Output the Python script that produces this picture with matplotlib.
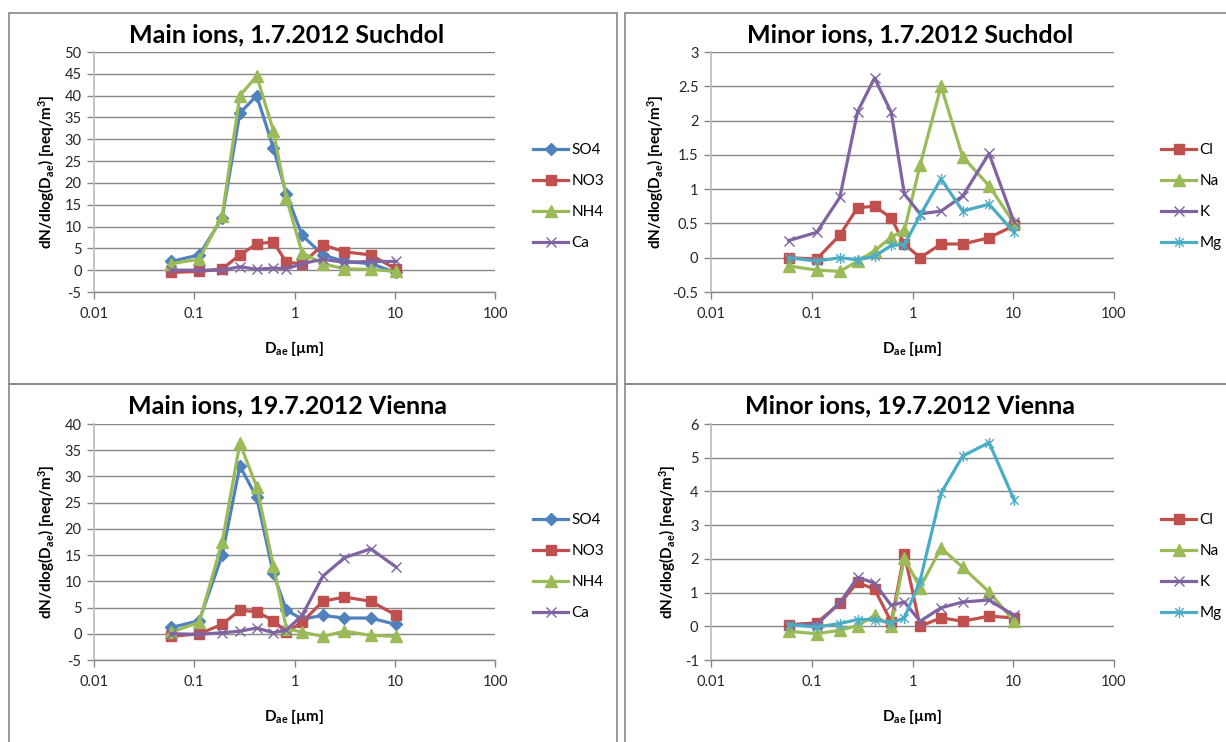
import matplotlib.pyplot as plt
from matplotlib.path import Path
from matplotlib.patches import Rectangle
from matplotlib.ticker import FixedLocator, FixedFormatter, NullLocator

plt.rcParams['font.family'] = ['Lato', 'DejaVu Sans']
plt.rcParams['mathtext.fontset'] = 'custom'
plt.rcParams['mathtext.rm'] = 'Lato'
plt.rcParams['mathtext.bf'] = 'Lato:bold'
plt.rcParams['mathtext.it'] = 'Lato:italic'

# aerodynamic diameters of impactor stages (um)
diam = [0.059, 0.112, 0.19, 0.285, 0.42, 0.615, 0.83, 1.19, 1.92, 3.15, 5.75, 10.2]

# main ions, Suchdol 1.7.2012
so4_s = [2.0, 3.5, 12.0, 36.0, 40.0, 28.0, 17.5, 8.0, 3.5, 2.0, 1.5, -0.5]
no3_s = [-0.5, -0.3, 0.3, 3.5, 6.0, 6.5, 1.8, 1.5, 5.8, 4.2, 3.5, 0.3]
nh4_s = [1.5, 2.5, 12.5, 40.0, 44.5, 32.0, 16.5, 4.0, 1.5, 0.3, 0.2, -0.3]
ca_s = [0.0, 0.0, 0.0, 0.8, 0.2, 0.5, 0.3, 1.5, 2.5, 1.8, 2.0, 2.0]

# minor ions, Suchdol 1.7.2012
cl_s = [0.0, -0.02, 0.33, 0.73, 0.75, 0.58, 0.2, 0.0, 0.2, 0.2, 0.29, 0.47]
na_s = [-0.12, -0.18, -0.2, -0.05, 0.1, 0.3, 0.4, 1.35, 2.5, 1.47, 1.05, 0.5]
k_s = [0.25, 0.37, 0.88, 2.13, 2.62, 2.12, 0.93, 0.64, 0.68, 0.9, 1.52, 0.52]
mg_s = [0.0, -0.05, 0.0, -0.03, 0.02, 0.18, 0.19, 0.62, 1.15, 0.68, 0.78, 0.37]

# main ions, Vienna 19.7.2012
so4_v = [1.2, 2.5, 15.0, 32.0, 26.0, 11.5, 4.5, 2.8, 3.5, 3.0, 3.0, 1.8]
no3_v = [-0.5, 0.0, 1.8, 4.5, 4.2, 2.5, 0.3, 2.2, 6.2, 7.0, 6.2, 3.6]
nh4_v = [0.3, 2.2, 17.5, 36.3, 28.0, 13.0, 1.0, 0.3, -0.5, 0.5, -0.3, -0.5]
ca_v = [0.0, -0.1, 0.2, 0.5, 1.1, 0.2, 0.7, 3.5, 11.0, 14.5, 16.2, 12.8]

# minor ions, Vienna 19.7.2012
cl_v = [0.05, 0.1, 0.68, 1.3, 1.1, 0.13, 2.15, 0.0, 0.25, 0.15, 0.3, 0.25]
na_v = [-0.15, -0.22, -0.12, 0.02, 0.32, 0.02, 2.02, 1.15, 2.32, 1.75, 1.02, 0.15]
k_v = [0.05, 0.05, 0.7, 1.45, 1.28, 0.62, 0.72, 0.15, 0.55, 0.72, 0.78, 0.32]
mg_v = [0.05, -0.02, 0.08, 0.2, 0.2, 0.1, 0.25, 1.35, 3.95, 5.05, 5.45, 3.75]

main_names = ['SO4', 'NO3', 'NH4', 'Ca']
minor_names = ['Cl', 'Na', 'K', 'Mg']

BLUE, RED, GREEN, PURPLE, CYAN = '#4F81BD', '#C0504D', '#9BBB59', '#8064A2', '#4BACC6'
GRID = '#868686'

star = Path([(-1, -1), (1, 1), (-1, 1), (1, -1), (0, -1.3), (0, 1.3)],
            [Path.MOVETO, Path.LINETO, Path.MOVETO, Path.LINETO, Path.MOVETO, Path.LINETO])

styles = {
    'SO4': dict(color=BLUE, marker='D', ms=6),
    'NO3': dict(color=RED, marker='s', ms=7.5),
    'NH4': dict(color=GREEN, marker='^', ms=8.5),
    'Ca': dict(color=PURPLE, marker='x', ms=7, mew=1.0),
    'Cl': dict(color=RED, marker='s', ms=7.5),
    'Na': dict(color=GREEN, marker='^', ms=8.5),
    'K': dict(color=PURPLE, marker='x', ms=7, mew=1.0),
    'Mg': dict(color=CYAN, marker=star, ms=8, mew=1.0),
}

W, H = 1226, 742
fig = plt.figure(figsize=(W / 100, H / 100), dpi=100)

# chart area borders
for x0, y0, x1, y1 in [(9, 13, 617, 384), (625, 13, 1240, 384), (9, 384, 617, 760), (625, 384, 1240, 760)]:
    fig.patches.append(Rectangle((x0 / W, 1 - y1 / H), (x1 - x0) / W, (y1 - y0) / H,
                                 transform=fig.transFigure, fill=False, ec=GRID, lw=1.2))


def panel(box, names, series, yticks, title, title_x, title_y, legend_x, legend_y):
    x0, y0, x1, y1 = box
    ax = fig.add_axes([x0 / W, 1 - y1 / H, (x1 - x0) / W, (y1 - y0) / H])
    for name, vals in zip(names, series):
        ax.plot(diam, vals, lw=2.3, label=name, clip_on=False, **styles[name])
    ax.set_xscale('log')
    ax.set_xlim(0.01, 100)
    ax.set_ylim(yticks[0], yticks[-1])
    ax.xaxis.set_major_locator(FixedLocator([0.01, 0.1, 1, 10, 100]))
    ax.xaxis.set_major_formatter(FixedFormatter(['0.01', '0.1', '1', '10', '100']))
    ax.xaxis.set_minor_locator(NullLocator())
    ax.set_yticks(yticks)
    ax.set_yticklabels([('%g' % t) for t in yticks])
    ax.yaxis.grid(True, color=GRID, lw=1.0)
    ax.set_axisbelow(True)
    for s in ['top', 'right']:
        ax.spines[s].set_visible(False)
    ax.spines['left'].set_color('#bfbfbf')
    ax.spines['left'].set_linewidth(1.3)
    ax.spines['bottom'].set_color(GRID)
    ax.spines['bottom'].set_linewidth(1.0)
    ax.tick_params(axis='both', direction='out', length=5, width=1, color=GRID,
                   labelsize=10.5, labelcolor='#262626')
    ax.tick_params(axis='y', pad=4)
    ax.tick_params(axis='x', pad=6)
    ax.set_xlabel(r'$\mathbf{D_{ae}}$ [µm]', fontsize=11, fontweight='bold', labelpad=13)
    ax.set_ylabel(r'dN/dlog($\mathbf{D_{ae}}$) [neq/m$^\mathbf{3}$]', fontsize=11,
                  fontweight='bold', labelpad=5)
    fig.text(title_x / W, 1 - title_y / H, title, ha='center', va='baseline',
             fontsize=18, fontweight='bold')
    ax.legend(loc='upper left', bbox_to_anchor=(legend_x / W, 1 - legend_y / H),
              bbox_transform=fig.transFigure, frameon=False, fontsize=11,
              labelspacing=1.12, handlelength=2.3, handletextpad=0.2,
              borderpad=0, borderaxespad=0)
    return ax


panel((94, 52, 495, 292), main_names, [so4_s, no3_s, nh4_s, ca_s],
      list(range(-5, 51, 5)), 'Main ions, 1.7.2012 Suchdol', 287, 42, 533, 143)
panel((711, 52, 1114, 292), minor_names, [cl_s, na_s, k_s, mg_s],
      [-0.5, 0, 0.5, 1, 1.5, 2, 2.5, 3], 'Minor ions, 1.7.2012 Suchdol', 910, 42, 1161, 143)
panel((94, 424, 495, 660), main_names, [so4_v, no3_v, nh4_v, ca_v],
      list(range(-5, 41, 5)), 'Main ions, 19.7.2012 Vienna', 287, 413, 533, 513)
panel((711, 424, 1114, 660), minor_names, [cl_v, na_v, k_v, mg_v],
      list(range(-1, 7)), 'Minor ions, 19.7.2012 Vienna', 910, 413, 1161, 513)

plt.savefig('out.png', dpi=100)
